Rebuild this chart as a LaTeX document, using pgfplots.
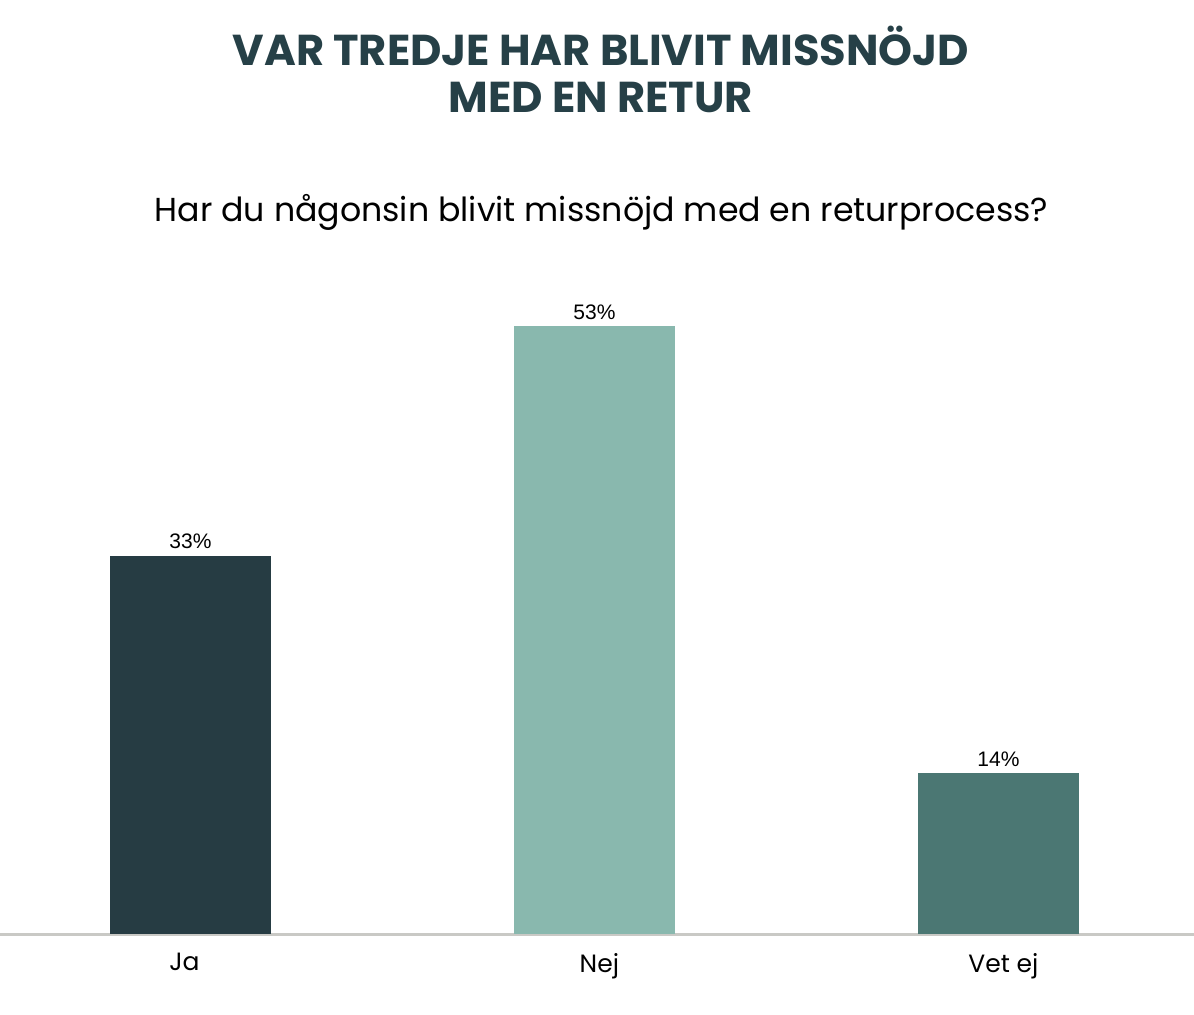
\documentclass[border=0pt]{standalone}
\usepackage{pgfplots}
\pgfplotsset{compat=1.18}
\usepackage{fontspec}
\setmainfont{Poppins}
\newfontfamily\valfont{Liberation Sans}
\definecolor{cJa}{HTML}{263C43}
\definecolor{cNej}{HTML}{89B8AE}
\definecolor{cVet}{HTML}{4B7773}
\definecolor{ctitle}{HTML}{264047}
\definecolor{cbase}{HTML}{C9C9C5}
\begin{document}
\begin{tikzpicture}
\useasboundingbox (0,0) rectangle (597pt,507pt);
\begin{axis}[
  at={(0pt,40pt)}, anchor=south west,
  scale only axis, width=597pt, height=317pt,
  xmin=-0.4715, xmax=2.4839, ymin=0, ymax=55.3,
  axis x line=bottom, axis y line=none,
  axis line style={cbase, line width=1.5pt, -},
  xtick={-0.015,1.012,2.012}, xticklabels={Ja,Nej,Vet ej},
  major tick length=0pt,
  xticklabel style={font=\fontsize{12.5}{14}\selectfont, yshift=-6pt},
  ybar, bar width=80.5pt, bar shift=0pt,
  clip=false,
  /pgf/number format/assume math mode=true,
  nodes near coords={\pgfmathprintnumber{\pgfplotspointmeta}\%},
  nodes near coords style={font=\valfont\fontsize{10.5}{12}\selectfont, black, yshift=0pt},
]
\addplot[fill=cJa, draw=none] coordinates {(0,33)};
\addplot[fill=cNej, draw=none] coordinates {(1,53)};
\addplot[fill=cVet, draw=none] coordinates {(2,14)};
\end{axis}
\node[color=ctitle, font=\bfseries\fontsize{21.6}{23.5}\selectfont, align=center] at (300.5pt,472.5pt) {VAR TREDJE HAR BLIVIT MISSNÖJD\\MED EN RETUR};
\node[font=\fontsize{16.6}{18}\selectfont] at (300.75pt,401pt) {Har du någonsin blivit missnöjd med en returprocess?};
\end{tikzpicture}
\end{document}
